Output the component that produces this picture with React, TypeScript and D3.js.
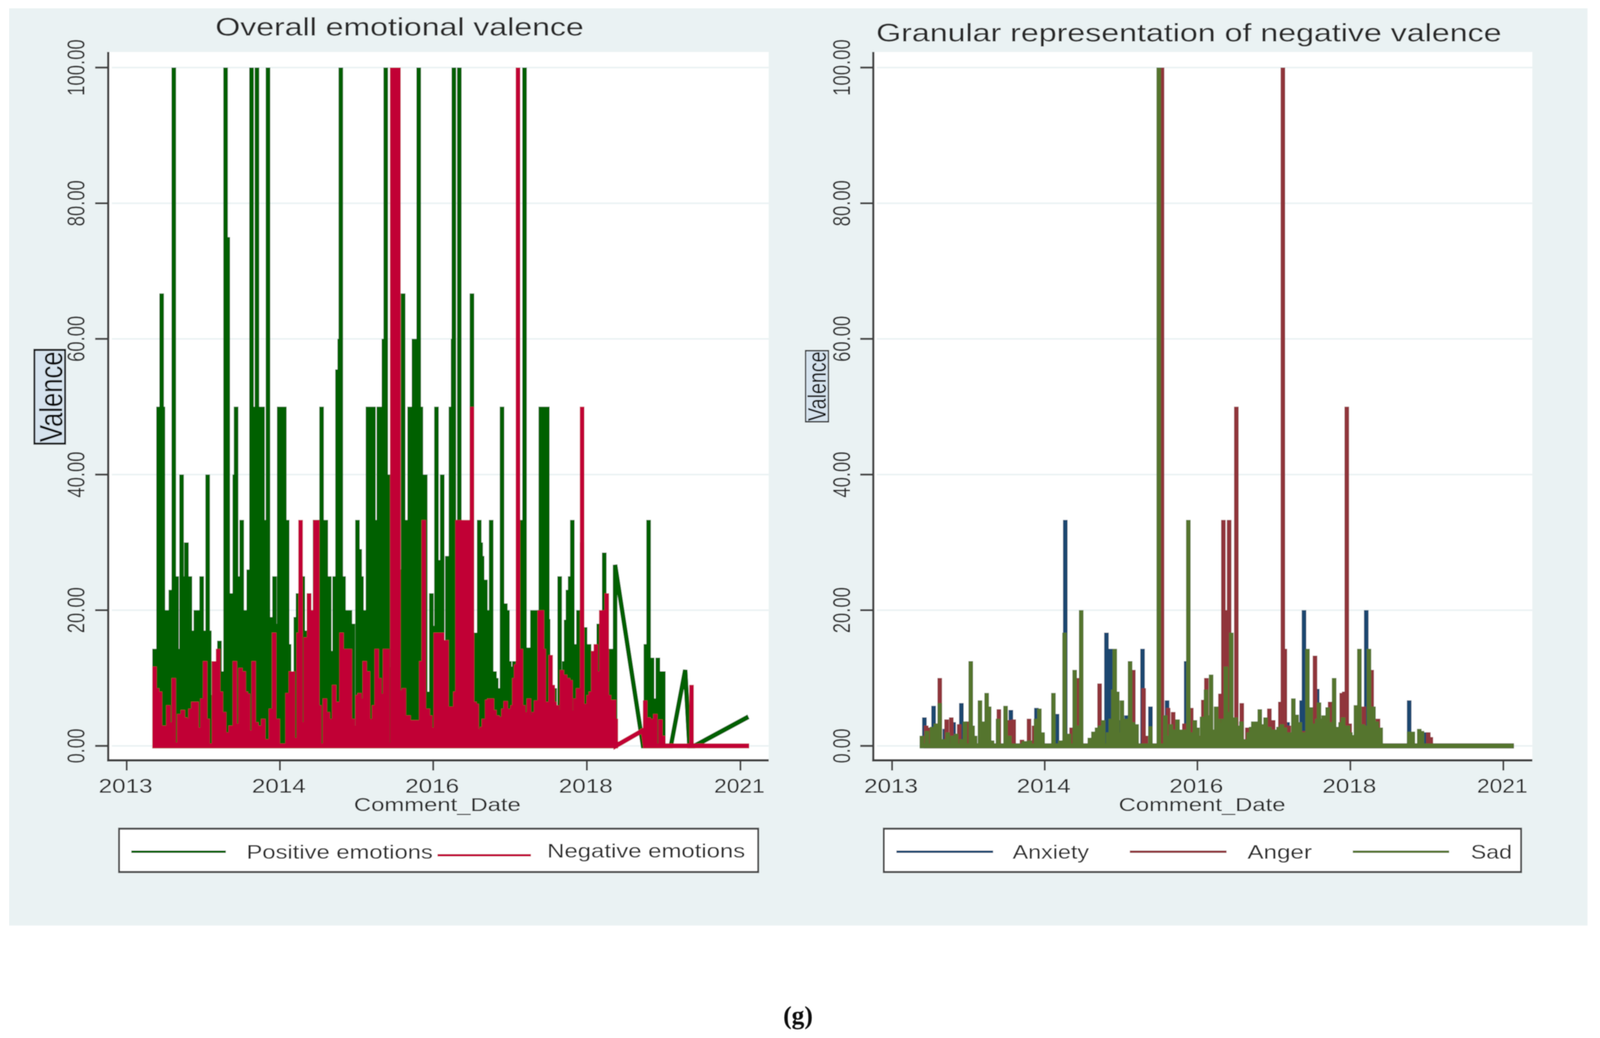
import React from "react";
import * as d3 from "d3";

type P = [number, number];

// Comment date is expressed in days from the first axis tick.
const dateTickDays = [0, 423, 846, 1270, 1694];
const dateTickLabels = ["2013", "2014", "2016", "2018", "2021"];
const valenceTicks = [0, 20, 40, 60, 80, 100];

const positiveSpikesA: P[] = [
  [77,14.3],[84,14.3],[88,50],[96.5,66.7],[100,50],[107,20],[115,20],[122,23],[130,100],[138,25],[144,14.3],[151.5,40],[159,25],[165,30],[174.5,25],[182,17],[191,20],[199,20],[207,25],[216,17],[223.5,40],[228,17],[233.5,7.5],[245,12],[256,15.5],[268,11],[273,100],[279,75],[283,22.5],[291,22.5],[298.5,40],[302,50],[310,25],[317.5,33.3],[327.5,20],[337,26],[344.5,100],[352,50],[359.5,100],[367,50],[375,50],[382.5,33.3],[390,100],[402,19],[408,25],[415,18],[421,50],[428,50],[435,50],[443,33.3],[448,15],[455,11],[467,19],[473,22.5],[486,25],[492,13],[496,17],[503.5,22.5],[513,20],[520,33.3],[530,33.3],[538,50],[549.5,33.3],[559,25],[566,14],[574,25],[582,55.5],[588,60],[591,100],[598.5,25],[605,20],[616,20],[624,18],[637,33.3],[643,29],[648,25],[654,20],[660,20],[666,50],[673,50],[681,50],[689,33.3],[696,50],[700,50],[706,40],[710,60],[715,100],[721,40],[727,11.6],[756,26],[763,66.7],[771,33.3],[776,26.5],[781,50],[787,50],[793,60],[798,60],[806,100],[812,50],[816,40],[820,40],[824,40],[832,8],[841,22.5],[848,17.7],[855,50],[863,27.4],[871,40],[878,15],[885,28],[890,28],[895,50],[901,60],[903,100],[910,33.3],[918,100],[953,66.7],[960,16.7],[966,16.7],[973,33.3],[977,30],[981,28],[990,24.5],[996,20],[1006,33.3],[1015,11],[1020,10],[1028,8.5],[1036,50],[1045,21],[1051,20],[1056,12.5],[1060,11.7],[1065,8.5],[1070,12.5],[1091,33.3],[1098,100],[1106,14.5],[1113,14.5],[1120,20],[1126,20],[1131,20],[1143,50],[1149,50],[1155,50],[1161,50],[1163,18.7],[1181,8.5],[1195,25],[1201,11.2],[1208,12.5],[1213,18.6],[1218,23],[1224,25],[1230,33.3],[1236,13.6],[1241,15],[1247,20],[1257,30],[1265,17.5],[1270,14.5],[1276,15],[1283,8.2],[1290,8.2],[1303,18],[1318,28.5],[1335,14.3],[1341,14.3],[1348,26.5],
];
const positiveTailB: P[] = [[1348,26.7],[1425,0]];
const positiveSpikesC: P[] = [[1433,15],[1440.5,33.3],[1450,13],[1456,7],[1466,13],[1473,11],[1481,11]];
const positiveTailD: P[] = [[1489,0],[1502,0],[1541.5,11.2],[1553,0],[1567,0],[1716,4.3]];

const negativeSpikesA: P[] = [
  [77,11.7],[84,8.5],[92,8],[103,3],[109,3],[115,6],[122.5,3.5],[130,10],[138,0.5],[145,4.7],[155,5.3],[162,4.2],[172,4],[176,5.5],[184,6.5],[193,6.5],[200.5,2.7],[209,7],[216.5,12.5],[223.5,4],[231,0.3],[241,12.5],[252.5,14.3],[260,8],[269,5],[279,2],[287,3],[298.5,12.5],[306,3.3],[314,11.5],[323,11],[329,8],[335,7.7],[343,2.3],[350.5,12.5],[358,3.5],[366,3],[370.5,1.5],[377,4],[386.5,1],[398,5.5],[407,16.7],[417,4],[425,0.3],[436,0.3],[444,7.8],[453,11],[459,11],[467,1.2],[474.5,16.7],[480,33.3],[488,3.5],[494,16],[503.5,22.5],[511,20],[520.5,33.3],[526,33.3],[532,6],[538,0.3],[547,7],[555,5],[562.5,4],[572.5,9],[582,6.5],[593,16.7],[605,14.3],[616,14.3],[624,4],[630,3],[637,7.5],[643,7.8],[649,7],[657,12.5],[666,11],[675,4],[683,6],[690,14.3],[698,10],[700,7.5],[706,7.7],[713,14.3],[720,14.3],[727,0.5],[733,100],[739,100],[745,100],[750,100],[756,8.2],[765,8.5],[771,4.5],[778,4.5],[785,3.8],[792,3.8],[799,3.8],[805,3.8],[808,3.5],[813,12.5],[820,33.3],[825,5.5],[831,5.5],[838,4.5],[846,2.7],[853,16.7],[860,16.7],[866,16.7],[871,16.7],[875,4.5],[883,15.6],[888,4.5],[895,5.8],[901,5.8],[907,8],[913,33.3],[921,33.3],[931,33.3],[941,33.3],[946,12.5],[953,50],[960,6.5],[966,6.2],[973,2.5],[980,2.8],[986,4],[995,6.8],[1001,7],[1008,7],[1015,5.3],[1023,4.5],[1031,4.3],[1040,5.5],[1046,6.6],[1053,5.5],[1060,4.5],[1065,6],[1070,10],[1075,12],[1080,100],[1088,14.3],[1095,6],[1101,5],[1110,7],[1116,4.5],[1123,5],[1130,6.7],[1140,20],[1146,20],[1151,14.3],[1158,6],[1163,6.5],[1170,13.4],[1176,9],[1181,6.5],[1188,6],[1193,5.3],[1201,11.2],[1210,10.5],[1218,10],[1225,9.7],[1231,5.2],[1238,7],[1246,8.5],[1257,50],[1263,6.2],[1268,6.2],[1275,7.5],[1281,8],[1288,14],[1295,15],[1301,11],[1310,20],[1316,20],[1325,22.5],[1331,7.5],[1338,6.8],[1345,6.8],[1350,4],
];
const negativeTailB: P[] = [[1350,0],[1425,2.3]];
const negativeSpikesC: P[] = [[1431,6.7],[1440,4.2],[1450,4],[1459,4.7],[1466,0.3],[1473,3.9],[1481,1.5]];
const negativeTailD: P[] = [[1489,0],[1552,0]];
const negativeSpikesE: P[] = [[1559,9]];
const negativeTailF: P[] = [[1567,0],[1718,0]];

const anxietySpikes: P[] = [
  [84,1.5],[89.5,4.2],[115,5.9],[146,2.5],[170.5,3.5],[192,6.3],[329,5.3],[400,5.6],[457,4.7],[480,33.3],[594,16.7],[605,14.3],[627,3.8],[642,3.7],[650,4.5],[694,14.3],[716,5.8],[762,6.7],[815,12.5],[1096,3.5],[1104,1.3],[1135,6.7],[1141.5,20],[1178,8.4],[1314,20],[1433,6.7],[1481,2],
];
const angerSpikes: P[] = [
  [94.5,3],[105,2.7],[125,3.3],[132,10],[151,3.9],[164,4.2],[186,3.2],[202,1.8],[209,3.6],[296,5.4],[325,3.8],[337,3.9],[360,0.9],[379.5,4],[393.5,3],[417,1.7],[497.5,2.7],[514,10],[575,9.2],[600,1.5],[668.5,11.2],[697,8.5],[703,1.5],[748,100],[765,5.6],[779,5],[810,3.3],[829,5.6],[852.5,1.5],[862.5,6.8],[871,10],[910,7.7],[918,33.3],[926,20],[934,33.3],[954,50],[969,6.3],[984.5,2.7],[1045.5,5.5],[1056,3.8],[1076,6.5],[1083,100],[1088.5,14.3],[1099,3],[1139,2.2],[1172,13.3],[1214,6.5],[1246,7.8],[1253,8],[1260,50],[1268,3.3],[1307,5.8],[1329,11.2],[1346.5,4],[1486,2],[1493,1.3],
];
const sadSpikes: P[] = [
  [82.5,1.5],[96.5,2.2],[110.5,2.8],[121,3.3],[132,6.3],[142,1],[154,2],[167,1.5],[177.5,1.8],[192,1],[202,3.6],[218,12.5],[223,3],[230,1.5],[243.5,6.7],[253.5,3.6],[262,7.8],[269,5.8],[277,0.8],[293.5,4],[314.5,5.9],[325,1.5],[365,0.7],[371,0.7],[381.5,0.8],[399,4],[408,5.5],[417,2],[447,7.8],[466,0.8],[478,16.7],[490.5,1.8],[506,11.2],[516.5,3],[524,20],[548,1.2],[558,2.1],[568,2.7],[576,3],[585,3.8],[598.5,2],[606,4],[613,8.3],[617,14.3],[624,8],[628.5,2],[637,6.7],[649,4],[659.5,12.5],[668,3.5],[677.5,3.2],[716,2.9],[739,100],[757,4.5],[765,1.5],[772,3.2],[781,2.4],[791,3.9],[800.5,2.4],[809,2.4],[821,33.3],[830,2],[839,3.8],[846,2.7],[853,1.3],[859,4.3],[870,8.3],[876,4.5],[884,10.5],[890,2.4],[898,5.8],[905,4],[910,3.4],[918,4],[925,11.7],[932,5],[940,16.7],[952,4.2],[960,3],[968,3.6],[977,1],[988,2],[995,2.8],[1001,3.6],[1009.5,3.6],[1019,5.4],[1027.5,3.2],[1035,4.2],[1045.5,2.8],[1054,2.4],[1063,2.4],[1071,2.8],[1080,3.2],[1088.5,2.7],[1097,2],[1104,2],[1112,7],[1121,4.6],[1130,3.5],[1140,2],[1151,14.3],[1160,5.7],[1165,3],[1172,3.3],[1178,4],[1183,6.4],[1190,4],[1196,4.5],[1207,5.7],[1215,3.5],[1225,10],[1235,2.8],[1243,3.5],[1250,4.2],[1257,3],[1264,3],[1270,2],[1275,1.6],[1285.5,6],[1295,14.3],[1304,3.2],[1314,3],[1321.5,14.3],[1328,5],[1334,5.8],[1343,3.6],[1354,2.7],[1433,2.1],[1443,2.1],[1461,2.5],[1468.5,2.2],
];
const rightTailEnd: P[] = [[1723,0]];

const leftTitle = "Overall emotional valence";
const rightTitle = "Granular representation of negative valence";
const xTitle = "Comment_Date";
const yTitle = "Valence";
const caption = "(g)";

const WIDTH = 4421, HEIGHT = 2658;
const BG = "#EAF2F3", INK = "#2b2b2b", AXIS = "#404040";
const FONT = "'Liberation Sans', Arial, sans-serif";
const COL = { pos: "#006100", neg: "#C10534", anx: "#1A476F", ang: "#90353B", sad: "#55752F" };

const yScale = d3.scaleLinear().domain([0, 100]).range([1910, 173]);
const xLeft = d3.scaleLinear().domain([0, 1694]).range([350, 2046]);
const xRight = d3.scaleLinear().domain([0, 1694]).range([2465, 4154]);

const spikes = (pts: P[]): P[] => pts.flatMap(([d, v]) => [[d, 0], [d, v], [d, 0]] as P[]);
const pathFor = (x: d3.ScaleLinear<number, number>, pts: P[]) =>
  d3.line<P>().x((p) => x(p[0])).y((p) => yScale(p[1]))(pts) as string;

const positivePoints = [...spikes(positiveSpikesA), ...positiveTailB, ...spikes(positiveSpikesC), ...positiveTailD];
const negativePoints = [...spikes(negativeSpikesA), ...negativeTailB, ...spikes(negativeSpikesC), ...negativeTailD, ...spikes(negativeSpikesE), ...negativeTailF];

function T(p: { x: number; y: number; w: number; fs: number; anchor?: string; rot?: boolean; weight?: string; fill?: string; family?: string; children: string }) {
  return (
    <text
      x={p.x}
      y={p.y}
      fontSize={p.fs}
      fontFamily={p.family ?? FONT}
      fontWeight={p.weight}
      fill={p.fill ?? INK}
      textAnchor={p.anchor ?? "start"}
      textLength={p.w}
      lengthAdjust="spacingAndGlyphs"
      transform={p.rot ? `rotate(-90 ${p.x} ${p.y})` : undefined}
    >
      {p.children}
    </text>
  );
}

function Frame(p: {
  x: d3.ScaleLinear<number, number>;
  axisX: number;
  right: number;
  title: string;
  titleX: number;
  titleW: number;
  titleY: number;
  labelX: number;
  xTitleX: number;
  xTitleW: number;
}) {
  return (
    <g>
      <rect x={p.axisX} y={133} width={p.right - p.axisX} height={1815} fill="#fff" />
      {valenceTicks.map((t) => (
        <line key={t} x1={p.axisX + 10} x2={p.right} y1={yScale(t)} y2={yScale(t)} stroke={BG} strokeWidth={4} />
      ))}
      <T x={p.titleX} y={p.titleY} w={p.titleW} fs={64}>{p.title}</T>
      {valenceTicks.map((t) => (
        <g key={t}>
          <line x1={p.axisX - 36} x2={p.axisX} y1={yScale(t)} y2={yScale(t)} stroke={AXIS} strokeWidth={5} />
          <T x={p.labelX} y={yScale(t)} w={t === 100 ? 145 : t === 0 ? 89 : 118} fs={68} anchor="middle" rot>
            {d3.format(".2f")(t)}
          </T>
        </g>
      ))}
      {dateTickDays.map((d, i) => (
        <g key={d}>
          <line x1={p.x(d)} x2={p.x(d)} y1={1947} y2={1973} stroke={AXIS} strokeWidth={5} />
          <T x={p.x(d) - 3} y={2030} w={i === 4 ? 140 : 149} fs={50} anchor="middle">{dateTickLabels[i]}</T>
        </g>
      ))}
      <T x={p.xTitleX} y={2077} w={p.xTitleW} fs={48}>{xTitle}</T>
    </g>
  );
}

function Axes(p: { axisX: number; right: number }) {
  return (
    <g stroke={AXIS} strokeWidth={6}>
      <line x1={p.axisX} x2={p.axisX} y1={133} y2={1950} />
      <line x1={p.axisX - 3} x2={p.right} y1={1947} y2={1947} />
    </g>
  );
}

function LineMark(p: { d: string; color: string }) {
  return <path d={p.d} fill="none" stroke={p.color} strokeWidth={12.5} strokeLinejoin="miter" strokeMiterlimit={3} strokeLinecap="butt" />;
}

export default function App() {
  return (
    <svg
      viewBox={`0 0 ${WIDTH} ${HEIGHT}`}
      preserveAspectRatio="none"
      style={{ position: "fixed", left: 0, top: 0, width: "100vw", height: "100vh", display: "block" }}
    >
      <defs>
        <filter id="soft" x="0" y="0" width="100%" height="100%" filterUnits="objectBoundingBox">
          <feGaussianBlur stdDeviation="1.3" />
        </filter>
      </defs>
      <rect width={WIDTH} height={HEIGHT} fill="#fff" />
      <g filter="url(#soft)">
        <rect x={25} y={21} width={4362} height={2349} fill={BG} />

        <Frame x={xLeft} axisX={299} right={2124} title={leftTitle} titleX={595} titleW={1018} titleY={91} labelX={233} xTitleX={978} xTitleW={461} />
        <LineMark d={pathFor(xLeft, positivePoints)} color={COL.pos} />
        <LineMark d={pathFor(xLeft, negativePoints)} color={COL.neg} />
        <Axes axisX={299} right={2124} />

        <Frame x={xRight} axisX={2413} right={4234} title={rightTitle} titleX={2421} titleW={1728} titleY={106} labelX={2349} xTitleX={3091} xTitleW={461} />
        <LineMark d={pathFor(xRight, [...spikes(anxietySpikes), ...rightTailEnd])} color={COL.anx} />
        <LineMark d={pathFor(xRight, [...spikes(angerSpikes), ...rightTailEnd])} color={COL.ang} />
        <LineMark d={pathFor(xRight, [...spikes(sadSpikes), ...rightTailEnd])} color={COL.sad} />
        <Axes axisX={2413} right={4234} />

        {/* y titles */}
        <rect x={95} y={896} width={85} height={240} fill="#D6E3EE" stroke="#111" strokeWidth={5} />
        <T x={172} y={1132} w={232} fs={88} rot fill="#111">{yTitle}</T>
        <rect x={2226} y={898} width={63} height={182} fill="#D6E3EE" stroke="#222" strokeWidth={3.5} />
        <T x={2282} y={1078} w={178} fs={70} rot fill="#111">{yTitle}</T>

        {/* left legend */}
        <rect x={329} y={2122} width={1766} height={111} fill="#fff" stroke="#444" strokeWidth={5} />
        <line x1={363} x2={624} y1={2181} y2={2181} stroke={COL.pos} strokeWidth={6} />
        <T x={681} y={2199} w={515} fs={50}>Positive emotions</T>
        <line x1={1209} x2={1467} y1={2190} y2={2190} stroke={COL.neg} strokeWidth={6} />
        <T x={1512} y={2196} w={547} fs={50}>Negative emotions</T>

        {/* right legend */}
        <rect x={2442} y={2122} width={1761} height={111} fill="#fff" stroke="#444" strokeWidth={5} />
        <line x1={2477} x2={2744} y1={2181} y2={2181} stroke={COL.anx} strokeWidth={6} />
        <T x={2798} y={2199} w={211} fs={50}>Anxiety</T>
        <line x1={3122} x2={3389} y1={2181} y2={2181} stroke={COL.ang} strokeWidth={6} />
        <T x={3447} y={2199} w={178} fs={50}>Anger</T>
        <line x1={3738} x2={4004} y1={2181} y2={2181} stroke={COL.sad} strokeWidth={6} />
        <T x={4064} y={2199} w={114} fs={50}>Sad</T>

        <T x={2164} y={2622} w={82} fs={66} weight="bold" family="'Liberation Serif', serif" fill="#111">{caption}</T>
      </g>
    </svg>
  );
}
